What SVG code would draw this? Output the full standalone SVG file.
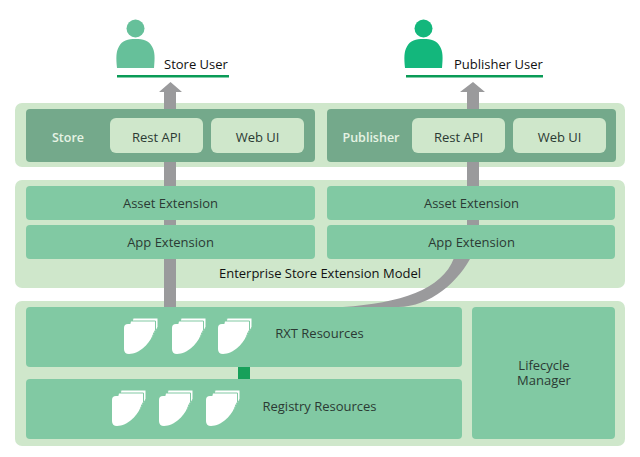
<svg xmlns="http://www.w3.org/2000/svg" width="640" height="457" viewBox="0 0 640 457">
  <style>
    text { font-family: "Open Sans", "Noto Sans", sans-serif; font-size: 13px; fill: #2b3a33; text-anchor: middle; }
    .panel { fill: #cfe7cb; }
    .dark { fill: #74a98b; }
    .mid { fill: #81c9a3; }
    .light { fill: #cfe7cb; }
    .flow { fill: #9a9a9c; }
    .rule { fill: #0a9b57; }
    .page { fill: #fff; stroke: #81c9a3; stroke-width: 1; }
    .name { fill: #111; text-anchor: start; }
    .onDark { fill: #e6f3e4; font-size: 12.500px; font-weight: 600; }
  </style>
  <defs>
    <path id="sheet" d="M4,0 H25 Q29,0 29,4 V9 C27,19 15,30 5,30 Q0,30 0,25 V4 Q0,0 4,0 Z"/>
    <g id="stack">
      <path class="page" d="M9,-6 H34 V3 L28,14 H5 Z"/>
      <path class="page" d="M6.500,-3 H31.500 V6 L26,16 H2.500 Z"/>
      <use href="#sheet" fill="#fff"/>
    </g>
    <g id="person">
      <circle cx="18.500" cy="9" r="9"/>
      <path d="M0,48.500 C-1,38 -1,32 2,27 C5,21 11,19.500 18.500,19.500 C26,19.500 32,21 35,27 C38,32 38,38 37,48.500 Z"/>
    </g>
  </defs>

  <rect width="640" height="457" fill="#fff"/>

  <g id="tier-panels">
    <rect class="panel" x="15" y="103" width="610" height="64" rx="7"/>
    <rect class="panel" x="15" y="180" width="610" height="108" rx="7"/>
    <rect class="panel" x="15" y="301" width="610" height="145" rx="7"/>
  </g>

  <g id="connectors">
    <path class="flow" d="M164,307 V92 H159 L170.500,82 L182,92 H176 V307 Z"/>
    <path class="flow" d="M467,228 V92 H460 L473,82 L485,92 H479 V228 C479,262 440,307 398,307 H343 C400,303 442,290 454,258 L467,228 Z"/>
    <rect x="238" y="367" width="12" height="12" fill="#17a05a"/>
  </g>

  <g id="store-user">
    <use href="#person" x="117" y="19.500" fill="#66c09a"/>
    <rect class="rule" x="117" y="75" width="112" height="2.500"/>
    <text class="name" x="164" y="69">Store User</text>
  </g>
  <g id="publisher-user">
    <use href="#person" x="405" y="19.500" fill="#13b77c"/>
    <rect class="rule" x="406" y="75" width="137" height="2.500"/>
    <text class="name" x="454" y="69">Publisher User</text>
  </g>

  <g id="store">
    <rect class="dark" x="26" y="109" width="289" height="53" rx="4"/>
    <text class="onDark" x="68" y="142">Store</text>
  </g>
  <g id="store-rest-api">
    <rect class="light" x="110" y="118" width="93" height="35" rx="6"/>
    <text x="156.500" y="142">Rest API</text>
  </g>
  <g id="store-web-ui">
    <rect class="light" x="211" y="118" width="93" height="35" rx="6"/>
    <text x="257.500" y="142">Web UI</text>
  </g>

  <g id="publisher">
    <rect class="dark" x="327" y="109" width="289" height="53" rx="4"/>
    <text class="onDark" x="371" y="142">Publisher</text>
  </g>
  <g id="publisher-rest-api">
    <rect class="light" x="412" y="118" width="93" height="35" rx="6"/>
    <text x="458.500" y="142">Rest API</text>
  </g>
  <g id="publisher-web-ui">
    <rect class="light" x="513" y="118" width="93" height="35" rx="6"/>
    <text x="559.500" y="142">Web UI</text>
  </g>

  <g id="store-asset-extension">
    <rect class="mid" x="26" y="186" width="289" height="34" rx="4"/>
    <text x="170.500" y="208">Asset Extension</text>
  </g>
  <g id="store-app-extension">
    <rect class="mid" x="26" y="225" width="289" height="34" rx="4"/>
    <text x="170.500" y="247">App Extension</text>
  </g>
  <g id="publisher-asset-extension">
    <rect class="mid" x="327" y="186" width="288" height="34" rx="4"/>
    <text x="471.500" y="208">Asset Extension</text>
  </g>
  <g id="publisher-app-extension">
    <rect class="mid" x="327" y="225" width="288" height="34" rx="4"/>
    <text x="471.500" y="247">App Extension</text>
  </g>
  <g id="extension-model">
    <text x="320" y="278" style="fill:#111">Enterprise Store Extension Model</text>
  </g>

  <g id="rxt-resources">
    <rect class="mid" x="26" y="307" width="436" height="60" rx="4"/>
    <use href="#stack" x="124" y="324"/>
    <use href="#stack" x="172" y="324"/>
    <use href="#stack" x="218" y="324"/>
    <text x="319.500" y="338">RXT Resources</text>
  </g>
  <g id="registry-resources">
    <rect class="mid" x="26" y="379" width="436" height="60" rx="4"/>
    <use href="#stack" x="112" y="396"/>
    <use href="#stack" x="159" y="396"/>
    <use href="#stack" x="206" y="396"/>
    <text x="319.500" y="411">Registry Resources</text>
  </g>
  <g id="lifecycle-manager">
    <rect class="mid" x="472" y="307" width="143" height="132" rx="4"/>
    <text><tspan x="544" y="369.500">Lifecycle</tspan><tspan x="544" y="384.500">Manager</tspan></text>
  </g>
</svg>
